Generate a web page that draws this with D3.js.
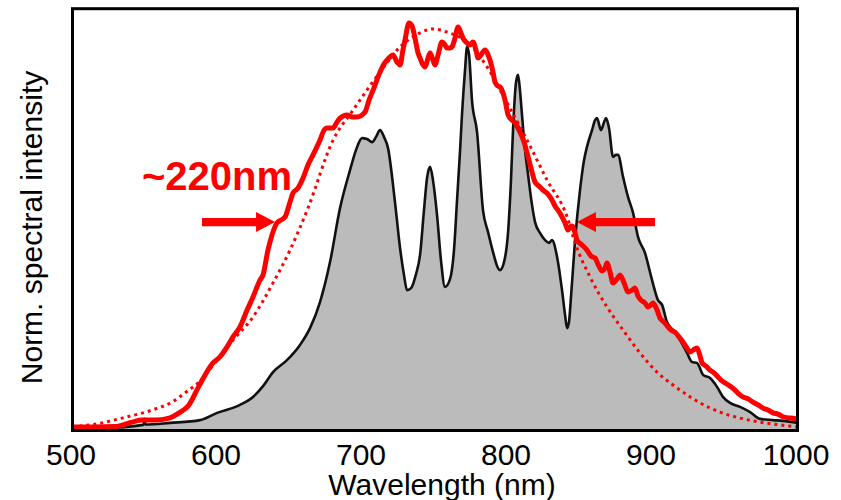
<!DOCTYPE html>
<html>
<head>
<meta charset="utf-8">
<script src="https://cdn.jsdelivr.net/npm/d3@7"></script>
<style>
  html, body { margin: 0; padding: 0; background: #fff; }
  svg { display: block; font-family: "Liberation Sans", Arial, sans-serif; }
</style>
</head>
<body>
<svg id="chart" width="841" height="500"></svg>
<script>
// ---------------- DATA ----------------
const xTicks = [500, 600, 700, 800, 900, 1000];

// black outlined grey spectrum
const blackWl = [500, 519, 548.6, 549, 549.7, 550.3, 567.2, 587.9, 599.7, 615.5, 624.5, 631.4, 638.3, 647.9, 656.9, 663.8, 670.7, 677.6, 684.5, 691.4, 695.5, 699.7, 703.1, 706.6, 709.3, 712.1, 714.8, 717.6, 722.4, 725.9, 728.6, 730.7, 733.5, 736.9, 739.7, 742.4, 744.5, 746.6, 748.6, 751.4, 754.1, 756.9, 760.4, 763.1, 765.2, 767.3, 768.6, 770.7, 772.1, 773.5, 775.5, 779.0, 783.1, 786.6, 789.3, 794.8, 797.6, 800.4, 802.4, 803.8, 805.9, 807.3, 808.6, 810.0, 812.1, 814.2, 816.9, 819.0, 822.4, 825.9, 828.6, 830.7, 834.2, 837.6, 839.7, 841.1, 842.4, 843.8, 846.6, 850.0, 852.8, 854.8, 858.3, 860.4, 861.7, 864.5, 866.6, 868.0, 870.0, 872.8, 874.8, 876.2, 879.7, 883.1, 886.6, 890.0, 894.8, 899.7, 903.8, 906.6, 910.0, 914.2, 919.0, 923.8, 927.3, 930.7, 934.9, 939.7, 944.5, 948.6, 953.5, 960.4, 967.3, 974.2, 983.1, 990.0, 1000];
const blackInt = [0.004, 0.005, 0.014, 0.015, 0.029, 0.015, 0.019, 0.026, 0.044, 0.064, 0.084, 0.111, 0.146, 0.176, 0.214, 0.256, 0.321, 0.421, 0.556, 0.651, 0.701, 0.731, 0.729, 0.721, 0.734, 0.751, 0.734, 0.706, 0.571, 0.456, 0.389, 0.351, 0.356, 0.391, 0.439, 0.551, 0.631, 0.659, 0.626, 0.539, 0.426, 0.359, 0.379, 0.451, 0.576, 0.701, 0.789, 0.901, 0.959, 0.939, 0.826, 0.746, 0.551, 0.496, 0.456, 0.401, 0.421, 0.496, 0.626, 0.751, 0.871, 0.889, 0.851, 0.789, 0.701, 0.639, 0.564, 0.521, 0.494, 0.476, 0.469, 0.476, 0.434, 0.351, 0.289, 0.256, 0.271, 0.334, 0.476, 0.601, 0.676, 0.709, 0.751, 0.776, 0.781, 0.751, 0.771, 0.781, 0.756, 0.684, 0.689, 0.689, 0.634, 0.584, 0.544, 0.484, 0.444, 0.376, 0.326, 0.314, 0.271, 0.251, 0.226, 0.194, 0.171, 0.169, 0.139, 0.131, 0.109, 0.084, 0.069, 0.059, 0.046, 0.029, 0.026, 0.024, 0.019];

// red solid (broadened) spectrum
const redWl = [500, 513.4, 529.3, 541.0, 547.9, 556.9, 566.6, 573.5, 580.3, 587.2, 596.9, 601.7, 606.6, 610.7, 615.5, 620.4, 624.5, 629.3, 631.4, 634.8, 637.6, 641.0, 643.8, 646.6, 650.0, 652.1, 655.5, 659.0, 662.4, 665.9, 670.7, 673.5, 675.5, 679.7, 682.4, 684.5, 689.3, 692.8, 696.2, 701.7, 704.5, 707.3, 712.1, 714.8, 716.9, 719.0, 721.0, 723.8, 725.9, 727.9, 729.3, 732.1, 734.2, 736.2, 738.3, 739.7, 741.7, 743.1, 745.2, 746.6, 748.6, 750.0, 752.1, 754.8, 756.9, 758.3, 760.4, 761.7, 763.8, 765.9, 767.9, 769.3, 772.1, 774.2, 776.2, 778.3, 779.7, 781.7, 784.5, 786.6, 787.9, 790.0, 791.4, 793.5, 794.8, 796.9, 798.3, 800.4, 803.1, 805.2, 808.6, 811.4, 813.5, 816.2, 819.0, 821.7, 824.5, 827.9, 830.7, 832.8, 834.8, 836.9, 839.7, 841.7, 843.1, 844.5, 846.6, 847.9, 851.4, 854.8, 857.6, 860.4, 862.4, 865.2, 867.3, 868.6, 870.7, 872.8, 875.5, 877.6, 880.4, 883.1, 885.9, 887.9, 890.0, 892.1, 894.8, 896.9, 899.0, 900.4, 903.1, 905.2, 908.0, 910.7, 912.8, 915.5, 918.3, 921.1, 923.8, 925.9, 928.0, 930.7, 932.8, 934.2, 936.9, 939.7, 942.4, 945.2, 947.9, 950.0, 953.5, 956.9, 959.7, 962.4, 965.9, 969.3, 972.8, 976.2, 979.7, 983.1, 986.6, 990.0, 994.9, 1000];
const redInt = [0.009, 0.009, 0.010, 0.021, 0.026, 0.026, 0.031, 0.044, 0.064, 0.111, 0.169, 0.184, 0.209, 0.234, 0.259, 0.301, 0.334, 0.376, 0.389, 0.451, 0.489, 0.519, 0.526, 0.534, 0.571, 0.594, 0.606, 0.631, 0.664, 0.689, 0.726, 0.751, 0.756, 0.756, 0.771, 0.781, 0.789, 0.784, 0.784, 0.796, 0.826, 0.851, 0.896, 0.916, 0.926, 0.934, 0.939, 0.921, 0.914, 0.951, 0.976, 1.019, 1.011, 0.981, 0.944, 0.931, 0.914, 0.909, 0.931, 0.944, 0.926, 0.914, 0.939, 0.971, 0.964, 0.956, 0.956, 0.959, 0.981, 1.009, 0.994, 0.981, 0.969, 0.964, 0.971, 0.951, 0.931, 0.939, 0.951, 0.939, 0.926, 0.896, 0.871, 0.861, 0.859, 0.844, 0.826, 0.789, 0.776, 0.769, 0.746, 0.721, 0.694, 0.656, 0.621, 0.611, 0.601, 0.591, 0.576, 0.561, 0.551, 0.539, 0.519, 0.501, 0.509, 0.511, 0.494, 0.476, 0.464, 0.451, 0.436, 0.431, 0.416, 0.399, 0.406, 0.419, 0.396, 0.369, 0.379, 0.389, 0.369, 0.346, 0.351, 0.356, 0.336, 0.326, 0.319, 0.309, 0.314, 0.319, 0.301, 0.281, 0.271, 0.259, 0.251, 0.246, 0.234, 0.221, 0.206, 0.196, 0.201, 0.206, 0.186, 0.169, 0.161, 0.151, 0.144, 0.134, 0.124, 0.119, 0.111, 0.101, 0.091, 0.084, 0.079, 0.071, 0.064, 0.056, 0.051, 0.044, 0.041, 0.034, 0.031, 0.029];

// red dotted (fit) curve
const fitWl = [500, 520.3, 534.1, 554.8, 568.6, 577.6, 587.2, 599.7, 610.7, 624.5, 638.3, 650.0, 662.4, 679.7, 693.5, 712.1, 725.9, 739.7, 748.6, 758.3, 772.1, 785.9, 799.7, 813.5, 827.3, 841.1, 846.6, 856.9, 868.6, 879.7, 891.4, 903.1, 912.1, 919.0, 932.8, 946.6, 960.4, 974.2, 988.0, 1000];
const fitInt = [0.009, 0.019, 0.031, 0.051, 0.071, 0.094, 0.121, 0.176, 0.226, 0.284, 0.369, 0.451, 0.556, 0.726, 0.801, 0.896, 0.959, 0.994, 1.004, 0.996, 0.971, 0.909, 0.819, 0.726, 0.626, 0.534, 0.469, 0.384, 0.309, 0.251, 0.194, 0.146, 0.119, 0.101, 0.069, 0.046, 0.031, 0.021, 0.014, 0.009];

// annotation (FWHM arrows and label)
const fwhmLabel = "~220nm";
const fwhmLevel = 0.521;
const leftArrow = [589.3, 639.7];   // tail, tip (nm)
const rightArrow = [901.7, 847.9];  // tail, tip (nm)
const labelPos = [547.9, 0.601];

const xLabel = "Wavelength (nm)";
const yLabel = "Norm. spectral intensity";

// ---------------- CHART ----------------
(function () {
  const svg = d3.select("#chart");
  const mLeft = 72.5, mRight = 797.5, mTop = 8.7, mBottom = 430.5;

  const x = d3.scaleLinear().domain([500, 1000]).range([mLeft, mRight]);
  const y = d3.scaleLinear().domain([0, (mBottom - mTop) / 400]).range([mBottom, mTop]);

  const zip = (a, b) => a.map((d, i) => [d, b[i]]);
  const black = zip(blackWl, blackInt);
  const red = zip(redWl, redInt);
  const fit = zip(fitWl, fitInt);

  svg.append("defs").append("clipPath").attr("id", "clip")
    .append("rect").attr("x", mLeft).attr("y", mTop).attr("width", mRight - mLeft).attr("height", mBottom - mTop);

  const g = svg.append("g").attr("clip-path", "url(#clip)");

  const area = d3.area().x(d => x(d[0])).y0(y(0)).y1(d => y(d[1])).curve(d3.curveMonotoneX);
  const line = d3.line().x(d => x(d[0])).y(d => y(d[1])).curve(d3.curveMonotoneX);

  g.append("path").datum(black).attr("d", area).attr("fill", "#bbbbbb");
  g.append("path").datum(black).attr("d", line).attr("fill", "none")
    .attr("stroke", "#111").attr("stroke-width", 2.6).attr("stroke-linejoin", "round");

  g.append("path").datum(fit).attr("d", line).attr("fill", "none")
    .attr("stroke", "#ff0000").attr("stroke-width", 3).attr("stroke-dasharray", "3,4");

  g.append("path").datum(red).attr("d", line).attr("fill", "none")
    .attr("stroke", "#ff0000").attr("stroke-width", 5).attr("stroke-linejoin", "round").attr("stroke-linecap", "round");

  function arrow(tailNm, tipNm) {
    const x0 = x(tailNm), x1 = x(tipNm), yc = y(fwhmLevel);
    const dir = Math.sign(x1 - x0);
    const headLen = 19, headHalf = 10, shaftHalf = 4.2;
    const xb = x1 - dir * headLen;
    const pts = [[x0, yc - shaftHalf], [xb, yc - shaftHalf], [xb, yc - headHalf], [x1, yc],
                 [xb, yc + headHalf], [xb, yc + shaftHalf], [x0, yc + shaftHalf]];
    svg.append("polygon").attr("points", pts.map(p => p.join(",")).join(" ")).attr("fill", "#ff0000");
  }
  arrow(leftArrow[0], leftArrow[1]);
  arrow(rightArrow[0], rightArrow[1]);

  svg.append("text").attr("x", x(labelPos[0])).attr("y", y(labelPos[1]))
    .attr("fill", "#ff0000").attr("font-size", 40).attr("font-weight", "bold").text(fwhmLabel);

  svg.append("rect").attr("x", mLeft).attr("y", mTop).attr("width", mRight - mLeft).attr("height", mBottom - mTop)
    .attr("fill", "none").attr("stroke", "#000").attr("stroke-width", 3);

  const ax = svg.append("g").attr("transform", `translate(0,${mBottom})`)
    .call(d3.axisBottom(x).tickValues(xTicks).tickSize(0).tickFormat(d3.format("d")));
  ax.select(".domain").remove();
  ax.selectAll("text").attr("y", 34.5).attr("dy", 0).attr("dx", -2)
    .attr("font-size", 30).attr("fill", "#000").attr("font-family", "Liberation Sans, Arial, sans-serif");

  svg.append("text").attr("x", 442).attr("y", 495).attr("text-anchor", "middle")
    .attr("font-size", 30).attr("fill", "#000").text(xLabel);

  svg.append("text").attr("transform", "translate(42,227.5) rotate(-90)").attr("text-anchor", "middle")
    .attr("font-size", 30).attr("fill", "#000").text(yLabel);
})();
</script>
</body>
</html>
